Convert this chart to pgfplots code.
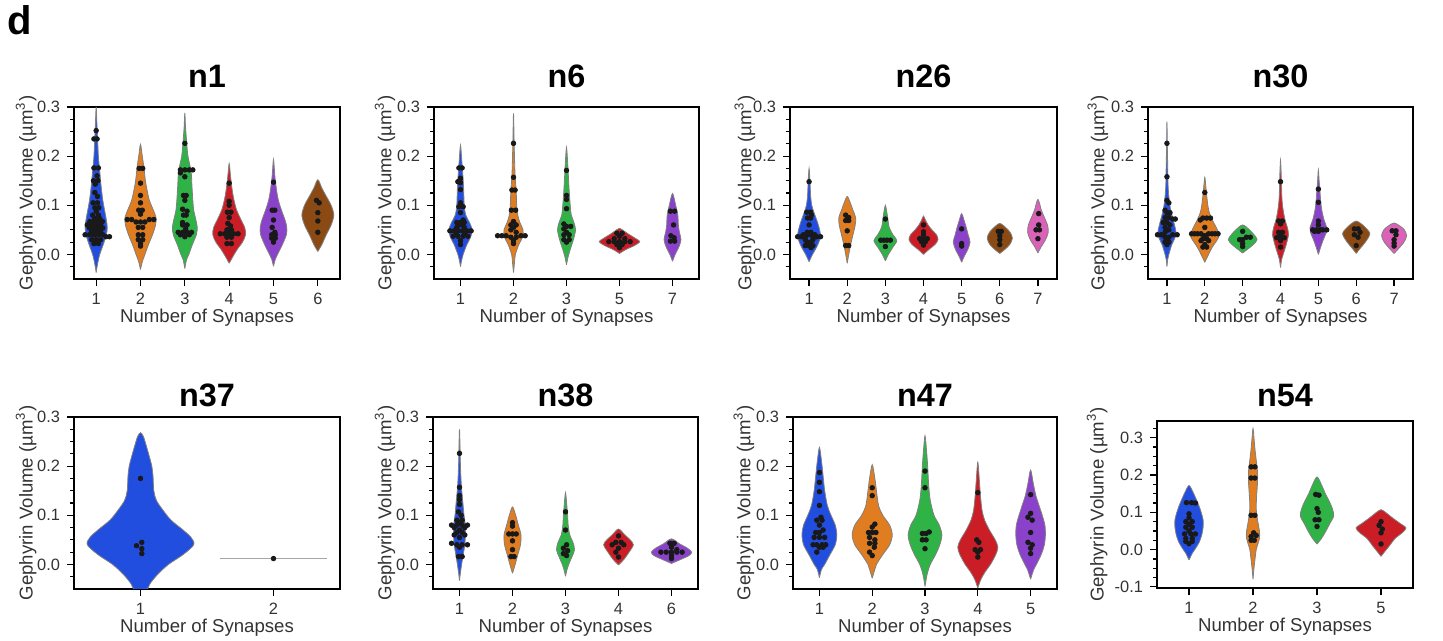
\documentclass[border=0pt]{standalone}
\usepackage{fontspec}
\setmainfont{Liberation Sans}
\usepackage{pgfplots}
\pgfplotsset{compat=1.18}
\definecolor{vblue}{RGB}{34,78,223}
\definecolor{vorange}{RGB}{223,125,32}
\definecolor{vgreen}{RGB}{48,179,70}
\definecolor{vred}{RGB}{203,29,37}
\definecolor{vpurple}{RGB}{138,66,203}
\definecolor{vbrown}{RGB}{139,74,20}
\definecolor{vpink}{RGB}{220,97,184}
% violin: position, colour, bottom tip, top tip, list of y/half-width
\newcommand\violin[5]{%
  \gdef\vR{}\gdef\vL{}%
  \foreach \vy/\vw in {#5}{%
    \pgfmathsetmacro\xa{#1+\vw}\pgfmathsetmacro\xb{#1-\vw}%
    \xdef\vR{\vR(\xa,\vy)}\xdef\vL{(\xb,\vy)\vL}}%
  \edef\vcmd{\noexpand\addplot[fill=#2,draw=black!50,line width=0.4pt,smooth] coordinates {(#1,#3)\vR(#1,#4)\vL(#1,#3)};}%
  \vcmd}
% swarm points: position, list of dx/y
\newcommand\swarm[2]{%
  \gdef\sP{}%
  \foreach \vd/\vy in {#2}{%
    \pgfmathsetmacro\xa{#1+\vd}\xdef\sP{\sP(\xa,\vy)}}%
  \edef\scmd{\noexpand\addplot[only marks,mark=*,mark size=1.15pt,black!90] coordinates {\sP};}%
  \scmd}
\pgfplotsset{
  panel/.style={
    scale only axis, anchor=south west, width=133pt, height=86pt,
    ymin=-0.05, ymax=0.3, ytick={0,0.1,0.2,0.3},
    minor ytick={-0.025,0.025,0.05,0.075,0.125,0.15,0.175,0.225,0.25,0.275},
    tick align=outside, tick pos=left,
    major tick length=3.5pt, minor tick length=2pt,
    every tick/.style={black, line width=0.6pt},
    axis line style={black, line width=0.8pt},
    /pgf/number format/assume math mode=true,
    yticklabel style={/pgf/number format/.cd, fixed, fixed zerofill, precision=1},
    tick label style={font=\fontsize{8.2}{10}\selectfont, text=black!80},
    label style={font=\fontsize{9.3}{11}\selectfont, text=black!80},
    xlabel={Number of Synapses},
    xlabel style={at={(axis description cs:0.5,0)}, anchor=base, yshift=-22pt},
    ylabel={Gephyrin Volume (µm\textsuperscript{3})},
    title style={font=\bfseries\fontsize{16.2}{19}\selectfont, at={(0.5,1)}, anchor=base},
    clip=true,
  },
  ylab/.style={ylabel style={at={(axis description cs:#1,0.5)}, anchor=center}},
}
\begin{document}
\begin{tikzpicture}
\path[use as bounding box] (0,0) rectangle (721.5pt,320.5pt);
\node[anchor=base west, inner sep=0pt, font=\bfseries\fontsize{20}{24}\selectfont] at (3.8pt,303pt) {d};

% ---------- n1 ----------
\begin{axis}[panel, at={(37pt,181pt)}, width=133pt, title={n1}, ylab=-0.18,
  title style={yshift=3.5pt},
  xmin=-0.5, xmax=5.5, xtick={0,...,5}, xticklabels={1,2,3,4,5,6}]
\violin{0}{vblue}{-0.037}{0.30}{-0.02/0.03,0.0/0.08,0.02/0.16,0.04/0.23,0.055/0.25,0.07/0.23,0.09/0.19,0.11/0.15,0.14/0.11,0.17/0.08,0.2/0.05,0.24/0.03,0.27/0.015}
\violin{1}{vorange}{-0.031}{0.224}{-0.015/0.04,0.0/0.1,0.02/0.18,0.04/0.27,0.06/0.34,0.075/0.35,0.09/0.29,0.11/0.2,0.13/0.15,0.15/0.11,0.175/0.08,0.2/0.04}
\violin{2}{vgreen}{-0.029}{0.288}{-0.01/0.04,0.0/0.09,0.02/0.17,0.04/0.26,0.055/0.28,0.07/0.25,0.09/0.2,0.11/0.18,0.14/0.16,0.17/0.14,0.2/0.07,0.23/0.04,0.26/0.015}
\violin{3}{vred}{-0.018}{0.185}{-0.005/0.08,0.01/0.18,0.025/0.3,0.04/0.37,0.055/0.35,0.07/0.27,0.09/0.17,0.11/0.11,0.13/0.07,0.16/0.03}
\violin{4}{vpurple}{-0.024}{0.193}{-0.01/0.04,0.0/0.09,0.02/0.2,0.04/0.29,0.055/0.3,0.07/0.26,0.09/0.18,0.11/0.11,0.13/0.07,0.16/0.03}
\violin{5}{vbrown}{0.006}{0.152}{0.02/0.09,0.04/0.19,0.06/0.3,0.08/0.36,0.1/0.3,0.12/0.18,0.135/0.09}
\swarm{0}{0/0.252,-0.05/0.235,0.02/0.235,-0.05/0.176,0.05/0.176,0.02/0.16,-0.06/0.15,0.04/0.15,-0.02/0.143,-0.03/0.126,0.03/0.118,-0.07/0.105,0.03/0.105,-0.03/0.095,0.06/0.095,0/0.088,-0.08/0.08,0.05/0.08,-0.03/0.073,0.08/0.073,-0.14/0.067,-0.05/0.067,0.05/0.067,0.14/0.067,-0.2/0.06,-0.1/0.06,0/0.06,0.1/0.06,-0.15/0.054,-0.05/0.054,0.05/0.054,0.15/0.054,-0.1/0.047,0/0.047,0.1/0.047,-0.25/0.04,-0.15/0.04,-0.05/0.04,0.05/0.04,0.15/0.04,0.22/0.036,0.3/0.036,-0.1/0.03,0/0.03,0.1/0.03,-0.05/0.022,0.05/0.022}
\swarm{1}{-0.03/0.175,0.05/0.175,0/0.145,0/0.12,0/0.105,-0.04/0.09,0.04/0.09,0/0.082,-0.3/0.071,-0.2/0.071,0.2/0.071,0.3/0.071,-0.1/0.066,0/0.066,0.1/0.066,-0.05/0.055,0.05/0.055,-0.05/0.04,0.05/0.04,-0.05/0.03,0.05/0.03,0/0.022,0/0.017}
\swarm{2}{0/0.226,-0.1/0.172,0/0.172,0.1/0.172,0.18/0.172,-0.1/0.166,0/0.158,-0.03/0.12,0.03/0.12,0/0.11,-0.05/0.092,0.05/0.088,-0.03/0.08,0.03/0.08,-0.05/0.065,-0.05/0.06,0.05/0.06,0.02/0.052,-0.15/0.045,-0.05/0.045,0.05/0.045,0.15/0.045,-0.1/0.04,0.1/0.04,0/0.036}
\swarm{3}{0/0.145,0/0.108,0/0.1,-0.04/0.086,0.04/0.086,0/0.075,-0.03/0.063,0.03/0.058,-0.05/0.05,0.05/0.05,-0.2/0.042,-0.1/0.042,0/0.042,0.1/0.042,0.2/0.042,-0.05/0.035,0.05/0.035,-0.05/0.022,0.05/0.022}
\swarm{4}{0/0.147,-0.03/0.09,0.03/0.09,0/0.07,-0.03/0.055,0.03/0.045,-0.04/0.04,0.04/0.04,-0.04/0.033,0.04/0.033,0/0.025}
\swarm{5}{-0.03/0.11,0.03/0.105,0/0.085,0/0.068,0/0.045}
\end{axis}

% ---------- n6 ----------
\begin{axis}[panel, at={(217pt,181pt)}, width=132.5pt, title={n6}, ylab=-0.185,
  title style={yshift=3.5pt},
  xmin=-0.5, xmax=4.5, xtick={0,...,4}, xticklabels={1,2,3,5,7}]
\violin{0}{vblue}{-0.025}{0.222}{-0.01/0.025,0.0/0.05,0.02/0.12,0.035/0.19,0.05/0.22,0.065/0.17,0.08/0.1,0.1/0.07,0.13/0.06,0.16/0.045,0.19/0.025}
\violin{1}{vorange}{-0.037}{0.287}{-0.015/0.02,0.0/0.035,0.02/0.1,0.035/0.17,0.05/0.18,0.065/0.12,0.08/0.08,0.1/0.06,0.13/0.05,0.16/0.03,0.2/0.018,0.24/0.01}
\violin{2}{vgreen}{-0.021}{0.218}{-0.005/0.03,0.01/0.07,0.03/0.13,0.05/0.17,0.065/0.14,0.08/0.09,0.1/0.07,0.13/0.05,0.16/0.035,0.19/0.02}
\violin{3}{vred}{0.002}{0.053}{0.01/0.12,0.018/0.28,0.026/0.38,0.034/0.28,0.042/0.16,0.048/0.08}
\violin{4}{vpurple}{-0.014}{0.124}{0.0/0.05,0.015/0.12,0.03/0.16,0.045/0.13,0.06/0.11,0.08/0.1,0.1/0.06}
\swarm{0}{-0.03/0.176,0.03/0.176,0/0.155,-0.05/0.148,0/0.146,0/0.132,0/0.105,-0.03/0.097,0.05/0.097,0/0.085,0.05/0.07,-0.07/0.065,0/0.065,0.07/0.065,-0.03/0.06,0.03/0.06,-0.07/0.055,0.07/0.055,-0.2/0.048,-0.12/0.048,-0.04/0.048,0.04/0.048,0.12/0.048,0.2/0.048,-0.08/0.042,0.08/0.042,-0.14/0.037,-0.05/0.037,0.05/0.037,0.14/0.037,0/0.028,0/0.02}
\swarm{1}{0/0.226,0/0.157,-0.03/0.131,0.03/0.131,-0.04/0.09,0.04/0.09,0/0.067,-0.05/0.06,0.05/0.06,0/0.055,-0.05/0.05,0.05/0.045,-0.3/0.038,-0.22/0.038,-0.14/0.038,0.14/0.038,0.22/0.038,-0.05/0.035,0.05/0.035,0/0.028,0/0.022}
\swarm{2}{0/0.171,0/0.12,0/0.112,0/0.093,-0.05/0.062,0/0.057,0.08/0.057,-0.05/0.052,0/0.045,-0.05/0.04,0.05/0.04,-0.05/0.03,0.05/0.03,0/0.025}
\swarm{3}{-0.05/0.043,0.05/0.043,0/0.037,-0.1/0.032,0.1/0.032,-0.2/0.026,-0.1/0.026,0/0.026,0.1/0.026,0.2/0.026,-0.05/0.02,0.05/0.02,0/0.014}
\swarm{4}{-0.04/0.088,0.04/0.088,0.02/0.06,-0.03/0.038,0.03/0.034,-0.04/0.027,0.04/0.027}
\end{axis}

% ---------- n26 ----------
\begin{axis}[panel, at={(395pt,181pt)}, width=133.5pt, title={n26}, ylab=-0.169,
  title style={yshift=3.5pt},
  xmin=-0.5, xmax=6.5, xtick={0,...,6}, xticklabels={1,2,3,4,5,6,7}]
\violin{0}{vblue}{-0.015}{0.175}{0.0/0.09,0.015/0.2,0.03/0.28,0.04/0.3,0.055/0.26,0.07/0.2,0.085/0.13,0.1/0.07,0.12/0.04,0.145/0.025}
\violin{1}{vorange}{-0.018}{0.118}{0.0/0.04,0.02/0.09,0.04/0.15,0.06/0.21,0.075/0.22,0.09/0.15,0.105/0.08}
\violin{2}{vgreen}{-0.013}{0.1}{0.0/0.08,0.015/0.2,0.028/0.3,0.04/0.2,0.055/0.1,0.075/0.06,0.09/0.03}
\violin{3}{vred}{0.0}{0.078}{0.01/0.14,0.02/0.3,0.03/0.38,0.04/0.34,0.05/0.22,0.06/0.12,0.07/0.05}
\violin{4}{vpurple}{-0.016}{0.083}{-0.005/0.06,0.01/0.16,0.025/0.22,0.04/0.17,0.055/0.12,0.07/0.06}
\violin{5}{vbrown}{0.002}{0.063}{0.01/0.13,0.02/0.26,0.033/0.33,0.045/0.27,0.055/0.15}
\violin{6}{vpink}{0.003}{0.112}{0.015/0.08,0.03/0.2,0.045/0.27,0.06/0.25,0.075/0.17,0.09/0.09}
\swarm{0}{0/0.148,-0.06/0.086,0.04/0.086,0.06/0.08,-0.04/0.074,0.04/0.074,0/0.06,-0.05/0.045,0.05/0.045,-0.15/0.04,-0.05/0.04,0.05/0.04,0.15/0.04,-0.3/0.036,-0.2/0.036,-0.1/0.036,0.1/0.036,0.2/0.036,0.3/0.036,-0.1/0.03,0.1/0.03,-0.05/0.025,0.05/0.025,-0.1/0.018,0/0.018,0.1/0.018,0.05/0.014}
\swarm{1}{-0.04/0.08,0.04/0.075,-0.04/0.069,0.04/0.069,0/0.048,-0.04/0.018,0.04/0.018}
\swarm{2}{0/0.072,-0.12/0.029,-0.04/0.029,0.04/0.029,0.13/0.029,0/0.016}
\swarm{3}{0/0.06,0/0.046,0/0.04,-0.1/0.032,0/0.032,0.1/0.032,-0.05/0.026,0.05/0.026,0/0.019}
\swarm{4}{0/0.052,0/0.022,0/0.017}
\swarm{5}{-0.04/0.047,0.04/0.047,0/0.038,0/0.03,0/0.02}
\swarm{6}{0.02/0.083,0.02/0.06,-0.05/0.05,0.04/0.05,0/0.032}
\end{axis}

% ---------- n30 ----------
\begin{axis}[panel, at={(574pt,181pt)}, width=132.5pt, title={n30}, ylab=-0.189,
  title style={yshift=3.5pt},
  xmin=-0.5, xmax=6.5, xtick={0,...,6}, xticklabels={1,2,3,4,5,6,7}]
\violin{0}{vblue}{-0.025}{0.27}{-0.01/0.02,0.0/0.05,0.02/0.13,0.035/0.22,0.045/0.24,0.06/0.2,0.075/0.15,0.09/0.1,0.11/0.06,0.14/0.03,0.18/0.02,0.22/0.01}
\violin{1}{vorange}{-0.016}{0.157}{0.0/0.1,0.015/0.2,0.03/0.33,0.04/0.38,0.055/0.3,0.07/0.2,0.085/0.12,0.1/0.08,0.12/0.05,0.14/0.025}
\violin{2}{vgreen}{0.003}{0.06}{0.01/0.12,0.02/0.28,0.03/0.38,0.04/0.3,0.05/0.18}
\violin{3}{vred}{-0.027}{0.192}{-0.01/0.03,0.0/0.07,0.02/0.15,0.04/0.21,0.055/0.18,0.07/0.12,0.09/0.07,0.11/0.04,0.14/0.025,0.17/0.015}
\violin{4}{vpurple}{0.0}{0.172}{0.015/0.06,0.03/0.13,0.045/0.21,0.055/0.22,0.07/0.15,0.09/0.09,0.11/0.06,0.13/0.04,0.15/0.02}
\violin{5}{vbrown}{0.002}{0.068}{0.012/0.1,0.025/0.24,0.042/0.36,0.055/0.24,0.063/0.12}
\violin{6}{vpink}{0.002}{0.064}{0.012/0.12,0.025/0.26,0.038/0.33,0.05/0.27,0.058/0.15}
\swarm{0}{0/0.226,0/0.158,0/0.11,0.05/0.105,-0.05/0.09,0/0.085,0.08/0.085,-0.05/0.075,0.05/0.075,0.15/0.072,0.22/0.072,-0.1/0.065,0/0.065,0.08/0.06,-0.05/0.055,0.05/0.05,-0.05/0.045,-0.25/0.04,-0.15/0.04,0.15/0.04,0.27/0.04,-0.05/0.035,0.05/0.035,0/0.03,-0.05/0.025,0.05/0.025,0/0.02}
\swarm{1}{0/0.126,-0.05/0.074,0.05/0.074,0.15/0.074,-0.12/0.07,0/0.055,-0.35/0.042,-0.27/0.042,-0.19/0.042,-0.1/0.042,0.1/0.042,0.19/0.042,0.27/0.042,0.35/0.042,0/0.038,-0.05/0.032,0.05/0.032,-0.1/0.028,0.1/0.028,0/0.02,-0.05/0.015,0.05/0.015}
\swarm{2}{0/0.047,0.1/0.035,0.2/0.035,-0.08/0.03,0/0.03,0/0.022,0/0.016}
\swarm{3}{0/0.148,-0.05/0.068,0.05/0.068,0/0.062,-0.05/0.045,0.05/0.045,0/0.038,-0.1/0.034,0.1/0.034,0/0.028,0/0.015}
\swarm{4}{0/0.133,0/0.106,0/0.068,0/0.06,-0.15/0.05,-0.05/0.05,0.05/0.05,0.12/0.05,0.22/0.05,-0.1/0.047,0/0.047}
\swarm{5}{-0.05/0.052,0.05/0.052,0.1/0.045,-0.05/0.04,0.05/0.035,0/0.018}
\swarm{6}{-0.05/0.048,0.05/0.048,0.05/0.04,0/0.03,0/0.023,0/0.017}
\end{axis}

% ---------- n37 ----------
\begin{axis}[panel, at={(37pt,26pt)}, width=133pt, title={n37}, ylab=-0.18,
  title style={yshift=-1pt},
  xmin=-0.5, xmax=1.5, xtick={0,1}, xticklabels={1,2}]
\violin{0}{vblue}{-0.09}{0.268}{-0.06/0.04,-0.04/0.07,-0.02/0.13,0.0/0.21,0.02/0.32,0.04/0.4,0.055/0.38,0.07/0.32,0.09/0.23,0.11/0.17,0.13/0.12,0.15/0.1,0.18/0.094,0.2/0.085,0.22/0.066,0.24/0.045,0.26/0.022}
\addplot[black!35, line width=0.4pt] coordinates {(0.6,0.013) (1.4,0.013)};
\swarm{0}{0/0.175,0.01/0.045,-0.03/0.038,0.01/0.032,0.01/0.022}
\swarm{1}{0/0.012}
\end{axis}

% ---------- n38 ----------
\begin{axis}[panel, at={(216.5pt,26pt)}, width=132.5pt, title={n38}, ylab=-0.181,
  title style={yshift=-1pt},
  xmin=-0.5, xmax=4.5, xtick={0,...,4}, xticklabels={1,2,3,4,6}]
\violin{0}{vblue}{-0.033}{0.275}{-0.015/0.02,0.0/0.04,0.02/0.07,0.04/0.1,0.06/0.11,0.08/0.11,0.1/0.085,0.13/0.06,0.16/0.035,0.2/0.018,0.24/0.01}
\violin{1}{vorange}{-0.018}{0.117}{0.0/0.05,0.02/0.1,0.04/0.15,0.06/0.16,0.08/0.11,0.1/0.06}
\violin{2}{vgreen}{-0.024}{0.146}{-0.01/0.03,0.0/0.06,0.015/0.12,0.03/0.17,0.045/0.14,0.06/0.08,0.08/0.05,0.1/0.04,0.12/0.025}
\violin{3}{vred}{-0.001}{0.072}{0.01/0.1,0.025/0.2,0.04/0.28,0.05/0.22,0.06/0.12}
\violin{4}{vpurple}{0.002}{0.052}{0.01/0.17,0.018/0.33,0.025/0.38,0.033/0.3,0.042/0.15}
\swarm{0}{0/0.226,0/0.157,0/0.14,0/0.132,0/0.122,-0.02/0.107,0.03/0.1,-0.05/0.09,0.05/0.09,0/0.085,-0.15/0.08,-0.05/0.08,0.05/0.08,0.15/0.08,-0.1/0.075,0.1/0.075,0/0.07,-0.05/0.065,0.05/0.065,-0.1/0.06,0.1/0.06,0/0.055,-0.15/0.043,-0.05/0.04,0.05/0.04,0.15/0.04,0/0.035,-0.02/0.016,0.05/0.016}
\swarm{1}{0/0.085,0/0.078,-0.07/0.062,0/0.062,0.07/0.062,0/0.048,0/0.03,-0.03/0.016,0.03/0.016}
\swarm{2}{0/0.107,0/0.07,0.02/0.04,-0.04/0.033,0.04/0.028,-0.04/0.022,0.02/0.018}
\swarm{3}{0/0.058,-0.05/0.045,0.05/0.045,-0.12/0.04,0.1/0.04,0/0.033,-0.05/0.025,0/0.015}
\swarm{4}{-0.03/0.043,0.05/0.043,0/0.035,0.1/0.03,-0.2/0.025,-0.1/0.025,0/0.025,0.1/0.025,0.2/0.025,0/0.018,0/0.012}
\end{axis}

% ---------- n47 ----------
\begin{axis}[panel, at={(396.5pt,26pt)}, width=132pt, title={n47}, ylab=-0.186,
  title style={yshift=-1pt},
  xmin=-0.5, xmax=4.5, xtick={0,...,4}, xticklabels={1,2,3,4,5}]
\violin{0}{vblue}{-0.027}{0.238}{-0.01/0.04,0.0/0.1,0.02/0.2,0.04/0.3,0.06/0.33,0.08/0.3,0.1/0.22,0.12/0.15,0.15/0.1,0.18/0.07,0.21/0.04}
\violin{1}{vorange}{-0.028}{0.203}{-0.01/0.05,0.0/0.08,0.02/0.2,0.04/0.33,0.06/0.38,0.08/0.33,0.1/0.2,0.12/0.12,0.15/0.08,0.175/0.05}
\violin{2}{vgreen}{-0.045}{0.262}{-0.02/0.04,0.0/0.1,0.02/0.2,0.04/0.28,0.06/0.32,0.08/0.27,0.1/0.17,0.13/0.1,0.16/0.07,0.2/0.05,0.23/0.03}
\violin{3}{vred}{-0.048}{0.208}{-0.03/0.06,-0.015/0.14,0.0/0.24,0.02/0.34,0.035/0.38,0.05/0.33,0.07/0.22,0.09/0.13,0.11/0.08,0.14/0.05,0.17/0.03}
\violin{4}{vpurple}{-0.03}{0.192}{-0.01/0.06,0.0/0.11,0.02/0.2,0.04/0.26,0.06/0.28,0.08/0.27,0.1/0.22,0.12/0.16,0.14/0.1,0.165/0.05}
\swarm{0}{0/0.187,0/0.167,0/0.148,0/0.12,0.03/0.096,-0.05/0.09,0.05/0.09,0/0.08,0.07/0.07,-0.07/0.065,0/0.065,-0.1/0.055,0/0.055,0.1/0.055,-0.12/0.04,-0.05/0.04,0.05/0.04,0.12/0.04,0/0.035,0.07/0.035,-0.05/0.025}
\swarm{1}{0/0.156,0/0.14,0.05/0.082,0/0.076,-0.07/0.065,0/0.065,0.07/0.065,-0.05/0.055,0.05/0.05,-0.05/0.043,0.05/0.043,0.04/0.035,-0.05/0.025,0/0.018}
\swarm{2}{0/0.19,0/0.156,0.08/0.066,-0.05/0.063,0.02/0.063,-0.05/0.05,0.02/0.05,0/0.032}
\swarm{3}{0/0.146,-0.02/0.05,0.02/0.045,-0.05/0.03,0.05/0.03,0/0.025,0/0.015}
\swarm{4}{0/0.142,0/0.104,-0.05/0.096,0.03/0.09,0/0.065,-0.05/0.045,0.03/0.04,0/0.033,0/0.022}
\end{axis}

% ---------- n54 ----------
\begin{axis}[panel, at={(578.5pt,26.5pt)}, width=128pt, height=83.5pt, title={n54}, ylab=-0.234,
  title style={yshift=1pt},
  ymin=-0.103, ymax=0.345, ytick={-0.1,0,0.1,0.2,0.3},
  minor ytick={-0.075,-0.05,-0.025,0.025,0.05,0.075,0.125,0.15,0.175,0.225,0.25,0.275,0.325},
  xmin=-0.5, xmax=3.5, xtick={0,...,3}, xticklabels={1,2,3,5}]
\violin{0}{vblue}{-0.028}{0.172}{-0.01/0.05,0.0/0.09,0.02/0.16,0.04/0.2,0.06/0.22,0.08/0.22,0.1/0.19,0.12/0.15,0.14/0.1,0.155/0.06}
\violin{1}{vorange}{-0.08}{0.325}{-0.05/0.015,-0.02/0.035,0.0/0.05,0.03/0.1,0.05/0.1,0.08/0.07,0.11/0.05,0.14/0.055,0.18/0.07,0.21/0.07,0.24/0.05,0.27/0.03,0.3/0.015}
\violin{2}{vgreen}{0.015}{0.195}{0.03/0.07,0.05/0.14,0.07/0.2,0.09/0.26,0.11/0.24,0.13/0.19,0.15/0.13,0.17/0.08}
\violin{3}{vred}{-0.018}{0.107}{-0.005/0.06,0.01/0.13,0.03/0.22,0.045/0.33,0.058/0.39,0.07/0.3,0.085/0.18,0.1/0.07}
\swarm{0}{-0.04/0.126,0.04/0.126,0.1/0.125,0/0.096,0/0.085,-0.05/0.075,0.05/0.075,0/0.068,-0.05/0.06,0.05/0.06,0/0.05,-0.07/0.042,0.03/0.042,0.1/0.042,-0.05/0.03,0.05/0.03,-0.05/0.022,0.05/0.022,0/0.016}
\swarm{1}{-0.03/0.222,0.03/0.222,-0.03/0.192,0.03/0.192,-0.03/0.092,0.03/0.092,0.01/0.045,0.05/0.038,-0.03/0.035,-0.03/0.025,0.02/0.025}
\swarm{2}{-0.02/0.148,0.03/0.146,0/0.11,0.02/0.1,-0.03/0.08,0.03/0.08,0/0.062}
\swarm{3}{0/0.075,-0.03/0.065,0.02/0.055,0/0.045,0/0.015}
\end{axis}
\end{tikzpicture}
\end{document}
